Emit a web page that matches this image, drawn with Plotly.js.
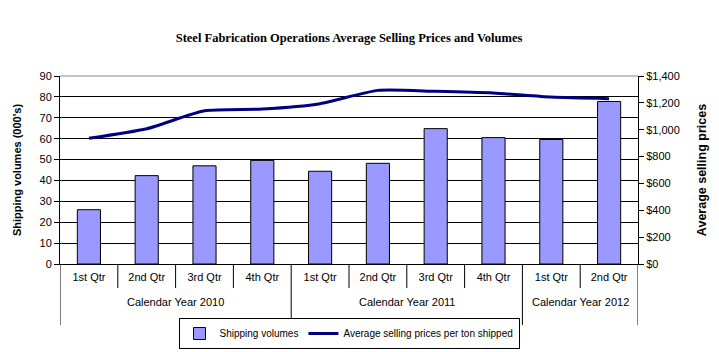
<!DOCTYPE html>
<html>
<head>
<meta charset="utf-8">
<script src="https://cdn.plot.ly/plotly-3.0.1.min.js"></script>
<style>html,body{margin:0;padding:0;background:#fff;}#chart{width:719px;height:352px;}</style>
</head>
<body>
<div id="chart"></div>
<script>
var quarters = ["1st Qtr","2nd Qtr","3rd Qtr","4th Qtr","1st Qtr","2nd Qtr","3rd Qtr","4th Qtr","1st Qtr","2nd Qtr"];
var yearLabels = ["Calendar Year 2010","Calendar Year 2011","Calendar Year 2012"];
var quartersPerYear = [4, 4, 2];
var volumes = [26, 42.3, 47, 49.6, 44.4, 48.2, 64.8, 60.5, 59.6, 77.8];
var prices = [936, 1007, 1141, 1154, 1194, 1293, 1286, 1273, 1243, 1231];

var font = "Liberation Sans, Arial, sans-serif";
var idx = quarters.map(function (_, i) { return i; });

// plot area geometry in px (for converting label offsets to paper units)
var plotTop = 76, plotBottom = 264, plotH = plotBottom - plotTop;
function py(px) { return (plotBottom - px) / plotH; }

var traces = [
  {
    type: "bar",
    name: "Shipping volumes",
    x: idx,
    y: volumes,
    marker: {color: "#9999FF", line: {color: "#000000", width: 1}},
    yaxis: "y"
  },
  {
    type: "scatter",
    mode: "lines",
    name: "Average selling prices per ton shipped",
    x: idx,
    y: prices,
    line: {color: "#000080", width: 3, shape: "spline", smoothing: 0.6},
    yaxis: "y2"
  }
];

var shapes = [
  {type: "line", xref: "paper", yref: "paper", x0: 0, x1: 1, y0: 1, y1: 1, line: {color: "#888", width: 1}}
];
var annotations = [];
// quarter separators (short) and year separators (long)
var start = 0;
var boundaries = [-0.5];
quartersPerYear.forEach(function (n, g) {
  for (var k = 1; k < n; k++) {
    var xb = start + k - 0.5;
    shapes.push({type: "line", xref: "x", yref: "paper", x0: xb, x1: xb, y0: 0, y1: py(288), line: {color: "#000", width: 1}});
  }
  annotations.push({
    xref: "x", yref: "paper", x: start + (n - 1) / 2, y: py(302),
    text: yearLabels[g], showarrow: false, xanchor: "center", yanchor: "middle",
    font: {family: font, size: 11, color: "#000"}
  });
  start += n;
  boundaries.push(start - 0.5);
});
boundaries.forEach(function (xb) {
  shapes.push({type: "line", xref: "x", yref: "paper", x0: xb, x1: xb, y0: 0, y1: py(325), line: {color: "#000", width: 1}});
});

var layout = {
  width: 719, height: 352,
  margin: {l: 60, r: 81, t: 76, b: 88},
  paper_bgcolor: "#ffffff",
  plot_bgcolor: "#ffffff",
  showlegend: true,
  bargap: 0.6,
  title: {
    text: "<b>Steel Fabrication Operations Average Selling Prices and Volumes</b>",
    font: {family: "Liberation Serif, Times New Roman, serif", size: 12.5, color: "#000"},
    x: 0.5, xref: "paper", xanchor: "center",
    y: 40, yref: "container", yanchor: "middle"
  },
  xaxis: {
    type: "linear",
    range: [-0.5, quarters.length - 0.5],
    tickmode: "array", tickvals: idx, ticktext: quarters,
    showline: true, linecolor: "#000", linewidth: 1,
    ticks: "", ticklabelstandoff: 3,
    tickfont: {family: font, size: 11, color: "#000"},
    showgrid: false, zeroline: false,
    fixedrange: true
  },
  yaxis: {
    range: [0, 90],
    dtick: 10,
    showline: true, linecolor: "#000", linewidth: 1,
    ticks: "outside", ticklen: 5, tickcolor: "#000",
    showgrid: true, gridcolor: "#000", gridwidth: 1,
    zeroline: false,
    tickfont: {family: font, size: 11, color: "#000"},
    title: {text: "<b>Shipping volumes (000's)</b>", font: {family: font, size: 11, color: "#000"}, standoff: 15}
  },
  yaxis2: {
    range: [0, 1400],
    dtick: 200,
    overlaying: "y",
    side: "right",
    showline: true, linecolor: "#000", linewidth: 1,
    ticks: "outside", ticklen: 5, tickcolor: "#000",
    showgrid: false, zeroline: false,
    tickprefix: "$", tickformat: ",d",
    tickfont: {family: font, size: 11, color: "#000"},
    title: {text: "<b>Average selling prices</b>", font: {family: font, size: 12.5, color: "#000"}, standoff: 18}
  },
  legend: {
    orientation: "h",
    x: 0.5, xanchor: "center", xref: "paper",
    y: 1 - 318 / 352, yanchor: "top", yref: "container",
    bordercolor: "#000", borderwidth: 1, bgcolor: "#fff",
    font: {family: font, size: 10, color: "#000"},
    traceorder: "normal"
  },
  shapes: shapes,
  annotations: annotations
};

Plotly.newPlot("chart", traces, layout, {displayModeBar: false, staticPlot: true});
</script>
</body>
</html>
